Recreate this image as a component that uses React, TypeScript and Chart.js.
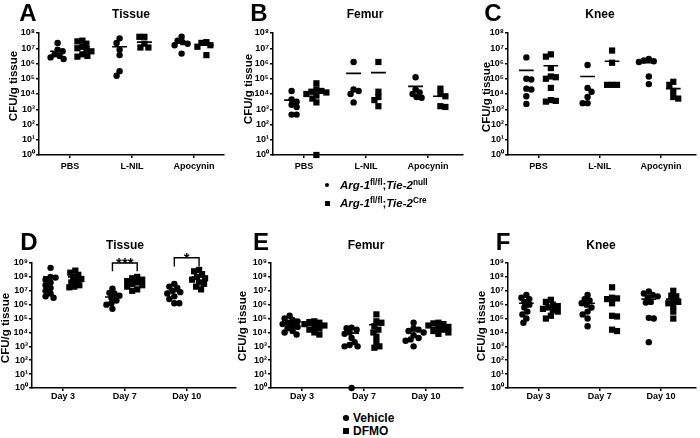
import React, { useEffect, useRef } from 'react';
import { Chart, registerables } from 'chart.js';

Chart.register(...registerables);

const FONT = "'Liberation Sans', Arial, Helvetica, sans-serif";

// ---------- categories & tick labels ----------
const TREATMENTS = ['PBS', 'L-NIL', 'Apocynin'];
const DAYS = ['Day 3', 'Day 7', 'Day 10'];
const TOP_Y_TICKS = ['10⁰', '10¹', '10²', '10³', '10⁴', '10⁵', '10⁶', '10⁷', '10⁸'];
const BOTTOM_Y_TICKS = ['10⁰', '10¹', '10²', '10³', '10⁴', '10⁵', '10⁶', '10⁷', '10⁸', '10⁹'];
const Y_TITLE = 'CFU/g tissue';

// ---------- data: log10(CFU/g tissue), one array per category ----------
// A – Tissue
const A_NULL = [
  [7.35, 6.9, 6.8, 6.6, 6.5, 6.4, 6.3],
  [7.65, 7.35, 6.9, 6.55, 5.5, 5.2],
  [7.75, 7.5, 7.4, 7.3, 7.2, 6.65],
];
const A_CRE = [
  [7.5, 7.45, 7.3, 7.1, 7.0, 6.9, 6.8, 6.6, 6.5, 6.45],
  [7.75, 7.75, 7.3, 7.05, 7.05],
  [7.4, 7.35, 7.2, 7.1, 6.55],
];
const A_NULL_MEAN = [6.8, 7.1, 7.35];
const A_CRE_MEAN = [7.1, 7.4, 7.2];

// B – Femur
const B_NULL = [
  [4.2, 3.65, 3.5, 3.3, 3.15, 2.65, 2.65],
  [6.1, 4.3, 4.2, 4.0, 3.45],
  [5.1, 4.3, 4.1, 4.0, 3.8, 3.75],
];
const B_CRE = [
  [4.7, 4.3, 4.2, 4.15, 4.1, 4.0, 3.9, 3.7, 3.45, 0],
  [6.1, 4.15, 3.8, 3.6, 3.2],
  [4.35, 4.0, 3.85, 3.2, 3.15],
];
const B_NULL_MEAN = [3.6, 5.35, 4.5];
const B_CRE_MEAN = [4.15, 5.4, 3.85];

// C – Knee
const C_NULL = [
  [6.4, 5.0, 4.95, 4.35, 4.3, 3.85, 3.35],
  [5.9, 4.4, 4.15, 3.8, 3.4, 3.4],
  [6.3, 6.2, 6.15, 6.1, 5.15, 4.65],
];
const C_CRE = [
  [6.6, 6.45, 5.7, 5.15, 5.1, 5.0, 4.4, 3.6, 3.55, 3.5],
  [6.85, 6.05, 4.6, 4.6, 4.6],
  [4.8, 4.6, 4.2, 3.8, 3.7],
];
const C_NULL_MEAN = [5.55, 5.15, 6.05];
const C_CRE_MEAN = [5.85, 6.15, 4.35];

// D – Tissue (Vehicle / DFMO)
const D_VEHICLE = [
  [8.65, 8.0, 7.95, 7.8, 7.6, 7.4, 7.2, 7.0, 6.8, 6.6, 6.5],
  [7.15, 6.85, 6.8, 6.65, 6.5, 6.3, 6.1, 6.0, 5.7],
  [7.5, 7.3, 7.2, 7.0, 6.9, 6.8, 6.6, 6.4, 6.1, 6.1],
];
const D_DFMO = [
  [8.45, 8.3, 8.15, 8.0, 7.85, 7.7, 7.6, 7.4, 7.3, 7.25],
  [8.0, 7.9, 7.8, 7.7, 7.6, 7.5, 7.4, 7.3, 7.1, 7.0],
  [8.5, 8.4, 8.2, 8.0, 7.9, 7.8, 7.6, 7.5, 7.3, 7.1],
];
const D_VEHICLE_MEAN = [8.0, 6.55, 6.95];
const D_DFMO_MEAN = [8.0, 7.6, 8.0];
const D_SIGNIFICANCE = [
  { cat: 1, top: 9.0, leg: 8.4, label: '***' },
  { cat: 2, top: 9.38, leg: 8.75, label: '*' },
];

// E – Femur
const E_VEHICLE = [
  [5.2, 5.0, 4.9, 4.8, 4.7, 4.6, 4.5, 4.4, 4.3, 4.1, 4.0, 3.85],
  [4.35, 4.3, 4.2, 4.0, 3.9, 3.6, 3.3, 3.1, 3.0, 3.0, 0],
  [4.7, 4.3, 4.2, 4.1, 4.0, 3.8, 3.6, 3.5, 3.4, 3.0],
];
const E_DFMO = [
  [4.8, 4.75, 4.7, 4.6, 4.5, 4.4, 4.3, 4.2, 4.0, 3.85],
  [5.3, 4.8, 4.7, 4.45, 4.2, 4.0, 3.7, 3.3, 3.0, 2.9],
  [4.7, 4.65, 4.6, 4.5, 4.4, 4.3, 4.2, 4.1, 4.0, 3.9],
];
const E_VEHICLE_MEAN = [4.65, 3.95, 4.1];
const E_DFMO_MEAN = [4.5, 4.55, 4.35];

// F – Knee
const F_VEHICLE = [
  [6.7, 6.5, 6.4, 6.2, 6.0, 5.8, 5.5, 5.3, 5.0, 4.7],
  [6.7, 6.4, 6.3, 6.1, 6.0, 5.8, 5.5, 5.3, 5.0, 4.45],
  [6.95, 6.8, 6.7, 6.6, 6.5, 6.2, 6.15, 5.05, 5.0, 3.3],
];
const F_DFMO = [
  [6.35, 6.2, 6.0, 5.9, 5.8, 5.7, 5.6, 5.5, 5.2, 5.0],
  [7.25, 6.5, 6.45, 6.4, 6.1, 5.2, 5.15, 4.2, 4.1],
  [7.0, 6.65, 6.6, 6.3, 6.2, 6.1, 5.9, 5.5, 5.0],
];
const F_VEHICLE_MEAN = [6.1, 6.1, 6.4];
const F_DFMO_MEAN = [5.85, 6.5, 6.4];

// ---------- layout ----------
const CAT_PX = 62;
const GROUP_OFFSET = 0.2;
const MEAN_HALF = 0.12;
const POINT_GAP = 5;
const X_H = 20;

type Box = { x: number; y: number; w: number; h: number; left: number; right: number; top: number; bottom: number; labelPad: number };
type Sig = { cat: number; top: number; leg: number; label: string };

const BOX_A: Box = { x: 0, y: 0, w: 232, h: 185, left: 39, right: 224, top: 33, bottom: 155, labelPad: 3 };
const BOX_B: Box = { x: 232, y: 0, w: 236, h: 185, left: 273, right: 463, top: 33, bottom: 155, labelPad: 3 };
const BOX_C: Box = { x: 468, y: 0, w: 232, h: 185, left: 508, right: 698, top: 33, bottom: 155, labelPad: 3 };
const BOX_D: Box = { x: 0, y: 225, w: 240, h: 185, left: 32, right: 236, top: 263, bottom: 388, labelPad: 0 };
const BOX_E: Box = { x: 240, y: 225, w: 228, h: 185, left: 271, right: 463, top: 263, bottom: 388, labelPad: 0 };
const BOX_F: Box = { x: 468, y: 225, w: 232, h: 185, left: 508, right: 698, top: 263, bottom: 388, labelPad: 0 };

function swarm(values: number[], center: number, pxX: number, pxY: number) {
  const order = values.map((_, i) => i).sort((a, b) => values[b] - values[a]);
  const placed: { dx: number; py: number }[] = [];
  const out: { x: number; y: number }[] = [];
  order.forEach((i, n) => {
    const py = values[i] * pxY;
    let dx = 0;
    const sign = n % 2 ? -1 : 1;
    for (let k = 0; k < 80; k++) {
      const cand = k === 0 ? 0 : (k % 2 ? sign : -sign) * Math.ceil(k / 2);
      if (placed.every((p) => Math.hypot(p.dx - cand, p.py - py) >= POINT_GAP)) {
        dx = cand;
        break;
      }
    }
    placed.push({ dx, py });
    out.push({ x: center + dx / pxX, y: values[i] });
  });
  return out;
}

type PanelProps = {
  box: Box;
  categories: string[];
  yTicks: string[];
  circles: number[][];
  squares: number[][];
  circleMeans: number[];
  squareMeans: number[];
  sig?: Sig[];
};

function Panel({ box, categories, yTicks, circles, squares, circleMeans, squareMeans, sig }: PanelProps) {
  const ref = useRef<HTMLCanvasElement>(null);
  useEffect(() => {
    if (!ref.current) return;
    const yMax = yTicks.length - 1;
    const xMax = (box.right - box.left) / CAT_PX;
    const pxY = (box.bottom - box.top) / yMax;
    const circlePts = circles.flatMap((vals, i) => swarm(vals, i + 0.5 - GROUP_OFFSET, CAT_PX, pxY));
    const squarePts = squares.flatMap((vals, i) => swarm(vals, i + 0.5 + GROUP_OFFSET, CAT_PX, pxY));
    const meanPts: { x: number; y: number | null }[] = [];
    categories.forEach((_, i) => {
      ([[circleMeans[i], -GROUP_OFFSET], [squareMeans[i], GROUP_OFFSET]] as [number, number][]).forEach(([m, off]) => {
        const c = i + 0.5 + off;
        meanPts.push({ x: c - MEAN_HALF, y: m }, { x: c + MEAN_HALF, y: m }, { x: c, y: null });
      });
    });
    const bracketPts: { x: number; y: number | null }[] = [];
    (sig || []).forEach((s) => {
      const c = s.cat + 0.5;
      bracketPts.push(
        { x: c - GROUP_OFFSET, y: s.leg },
        { x: c - GROUP_OFFSET, y: s.top },
        { x: c + GROUP_OFFSET, y: s.top },
        { x: c + GROUP_OFFSET, y: s.leg },
        { x: c, y: null }
      );
    });

    const tickFont = { family: FONT, size: 9, weight: 'bold' as const };
    const axisCommon = {
      grid: { display: true, drawOnChartArea: false, drawTicks: true, tickLength: 3, color: '#000', lineWidth: 1.5 },
      border: { display: true, color: '#000', width: 1.5 },
    };

    const sigPlugin = {
      id: 'sigLabels',
      afterDatasetsDraw(chart: any) {
        if (!sig) return;
        const { ctx, scales } = chart;
        ctx.save();
        ctx.fillStyle = '#000';
        ctx.font = `bold 15px ${FONT}`;
        ctx.textAlign = 'center';
        ctx.textBaseline = 'alphabetic';
        sig.forEach((s) => {
          ctx.fillText(s.label, scales.x.getPixelForValue(s.cat + 0.5), scales.y.getPixelForValue(s.top) + 5);
        });
        ctx.restore();
      },
    };

    const chart = new Chart(ref.current, {
      type: 'scatter',
      data: {
        datasets: [
          {
            data: circlePts,
            pointStyle: 'circle',
            pointRadius: 3.2,
            backgroundColor: '#000',
            borderColor: '#000',
            borderWidth: 0,
            clip: false,
          } as any,
          {
            data: squarePts,
            pointStyle: 'rect',
            pointRadius: 4.4,
            backgroundColor: '#000',
            borderColor: '#000',
            borderWidth: 0,
            clip: false,
          } as any,
          {
            data: meanPts,
            showLine: true,
            spanGaps: false,
            pointRadius: 0,
            borderColor: '#000',
            borderWidth: 1.6,
            clip: false,
          } as any,
          {
            data: bracketPts,
            showLine: true,
            spanGaps: false,
            pointRadius: 0,
            borderColor: '#000',
            borderWidth: 1.4,
            clip: false,
          } as any,
        ],
      },
      options: {
        responsive: false,
        animation: false,
        events: [],
        layout: {
          padding: {
            left: 0,
            top: box.top - box.y,
            right: box.x + box.w - box.right,
            bottom: box.y + box.h - box.bottom - X_H,
          },
        },
        plugins: { legend: { display: false }, tooltip: { enabled: false }, title: { display: false } },
        scales: {
          x: {
            type: 'linear',
            min: 0,
            max: xMax,
            afterBuildTicks: (s: any) => {
              s.ticks = categories.map((_, i) => ({ value: i + 0.5 }));
            },
            afterFit: (s: any) => {
              s.height = X_H;
            },
            ticks: {
              autoSkip: false,
              maxRotation: 0,
              padding: box.labelPad,
              color: '#000',
              font: tickFont,
              callback: (v: any) => categories[Math.round(Number(v) - 0.5)] ?? '',
            },
            ...axisCommon,
          },
          y: {
            type: 'linear',
            min: 0,
            max: yMax,
            afterBuildTicks: (s: any) => {
              s.ticks = yTicks.map((_, i) => ({ value: i }));
            },
            afterFit: (s: any) => {
              s.width = box.left - box.x;
            },
            ticks: {
              autoSkip: false,
              padding: 1,
              color: '#000',
              font: tickFont,
              callback: (v: any) => yTicks[Math.round(Number(v))] ?? '',
            },
            ...axisCommon,
          },
        },
      } as any,
      plugins: [sigPlugin],
    });
    return () => chart.destroy();
  }, []);
  return (
    <canvas
      ref={ref}
      width={box.w}
      height={box.h}
      style={{ position: 'absolute', left: box.x, top: box.y, width: box.w, height: box.h }}
    />
  );
}

function Txt({ x, y, size, children, weight = 'bold', rotate = 0, anchor = 'center', italic = false }: any) {
  return (
    <div
      style={{
        position: 'absolute',
        left: x,
        top: y,
        transform: `translate(${anchor === 'left' ? '0' : '-50%'}, -50%) rotate(${rotate}deg)`,
        fontFamily: FONT,
        fontSize: size,
        fontWeight: weight,
        fontStyle: italic ? 'italic' : 'normal',
        lineHeight: 1,
        whiteSpace: 'nowrap',
        color: '#000',
      }}
    >
      {children}
    </div>
  );
}

const Sup = ({ children }: any) => (
  <span style={{ fontSize: '0.72em', position: 'relative', top: '-0.45em', fontStyle: 'normal' }}>{children}</span>
);

function Marker({ x, y, size, round }: any) {
  return (
    <div
      style={{
        position: 'absolute',
        left: x - size / 2,
        top: y - size / 2,
        width: size,
        height: size,
        borderRadius: round ? '50%' : 0,
        background: '#000',
      }}
    />
  );
}

export default function App() {
  return (
    <div style={{ position: 'absolute', left: 0, top: 0, width: 700, height: 438, background: '#fff', overflow: 'hidden' }}>
      <Panel box={BOX_A} categories={TREATMENTS} yTicks={TOP_Y_TICKS} circles={A_NULL} squares={A_CRE} circleMeans={A_NULL_MEAN} squareMeans={A_CRE_MEAN} />
      <Panel box={BOX_B} categories={TREATMENTS} yTicks={TOP_Y_TICKS} circles={B_NULL} squares={B_CRE} circleMeans={B_NULL_MEAN} squareMeans={B_CRE_MEAN} />
      <Panel box={BOX_C} categories={TREATMENTS} yTicks={TOP_Y_TICKS} circles={C_NULL} squares={C_CRE} circleMeans={C_NULL_MEAN} squareMeans={C_CRE_MEAN} />
      <Panel box={BOX_D} categories={DAYS} yTicks={BOTTOM_Y_TICKS} circles={D_VEHICLE} squares={D_DFMO} circleMeans={D_VEHICLE_MEAN} squareMeans={D_DFMO_MEAN} sig={D_SIGNIFICANCE} />
      <Panel box={BOX_E} categories={DAYS} yTicks={BOTTOM_Y_TICKS} circles={E_VEHICLE} squares={E_DFMO} circleMeans={E_VEHICLE_MEAN} squareMeans={E_DFMO_MEAN} />
      <Panel box={BOX_F} categories={DAYS} yTicks={BOTTOM_Y_TICKS} circles={F_VEHICLE} squares={F_DFMO} circleMeans={F_VEHICLE_MEAN} squareMeans={F_DFMO_MEAN} />

      {/* panel letters */}
      <Txt x={28} y={13} size={24}>A</Txt>
      <Txt x={259} y={13} size={24}>B</Txt>
      <Txt x={493} y={13} size={24}>C</Txt>
      <Txt x={29} y={242} size={24}>D</Txt>
      <Txt x={261} y={242} size={24}>E</Txt>
      <Txt x={503} y={242} size={24}>F</Txt>

      {/* panel titles */}
      <Txt x={131} y={14} size={12}>Tissue</Txt>
      <Txt x={365} y={14} size={12}>Femur</Txt>
      <Txt x={600} y={14} size={12}>Knee</Txt>
      <Txt x={125} y={245} size={12}>Tissue</Txt>
      <Txt x={366} y={245} size={12}>Femur</Txt>
      <Txt x={601} y={245} size={12}>Knee</Txt>

      {/* y-axis titles */}
      <Txt x={14} y={86} size={11.5} rotate={-90}>{Y_TITLE}</Txt>
      <Txt x={249} y={89} size={11.5} rotate={-90}>{Y_TITLE}</Txt>
      <Txt x={487} y={97} size={11.5} rotate={-90}>{Y_TITLE}</Txt>
      <Txt x={6} y={328} size={11.5} rotate={-90}>{Y_TITLE}</Txt>
      <Txt x={243} y={326} size={11.5} rotate={-90}>{Y_TITLE}</Txt>
      <Txt x={482} y={326} size={11.5} rotate={-90}>{Y_TITLE}</Txt>

      {/* legend top */}
      <Marker x={327} y={185} size={4.5} round />
      <Txt x={340} y={186} size={11.5} anchor="left" italic>
        Arg-1<Sup>fl/fl</Sup><span style={{ fontStyle: 'normal' }}>;</span>Tie-2<Sup>null</Sup>
      </Txt>
      <Marker x={327} y={203} size={5} />
      <Txt x={340} y={204} size={11.5} anchor="left" italic>
        Arg-1<Sup>fl/fl</Sup><span style={{ fontStyle: 'normal' }}>;</span>Tie-2<Sup>Cre</Sup>
      </Txt>

      {/* legend bottom */}
      <Marker x={346} y={418} size={5.5} round />
      <Txt x={353} y={418} size={12} anchor="left">Vehicle</Txt>
      <Marker x={346} y={431} size={5.5} />
      <Txt x={353} y={431} size={12} anchor="left">DFMO</Txt>
    </div>
  );
}
